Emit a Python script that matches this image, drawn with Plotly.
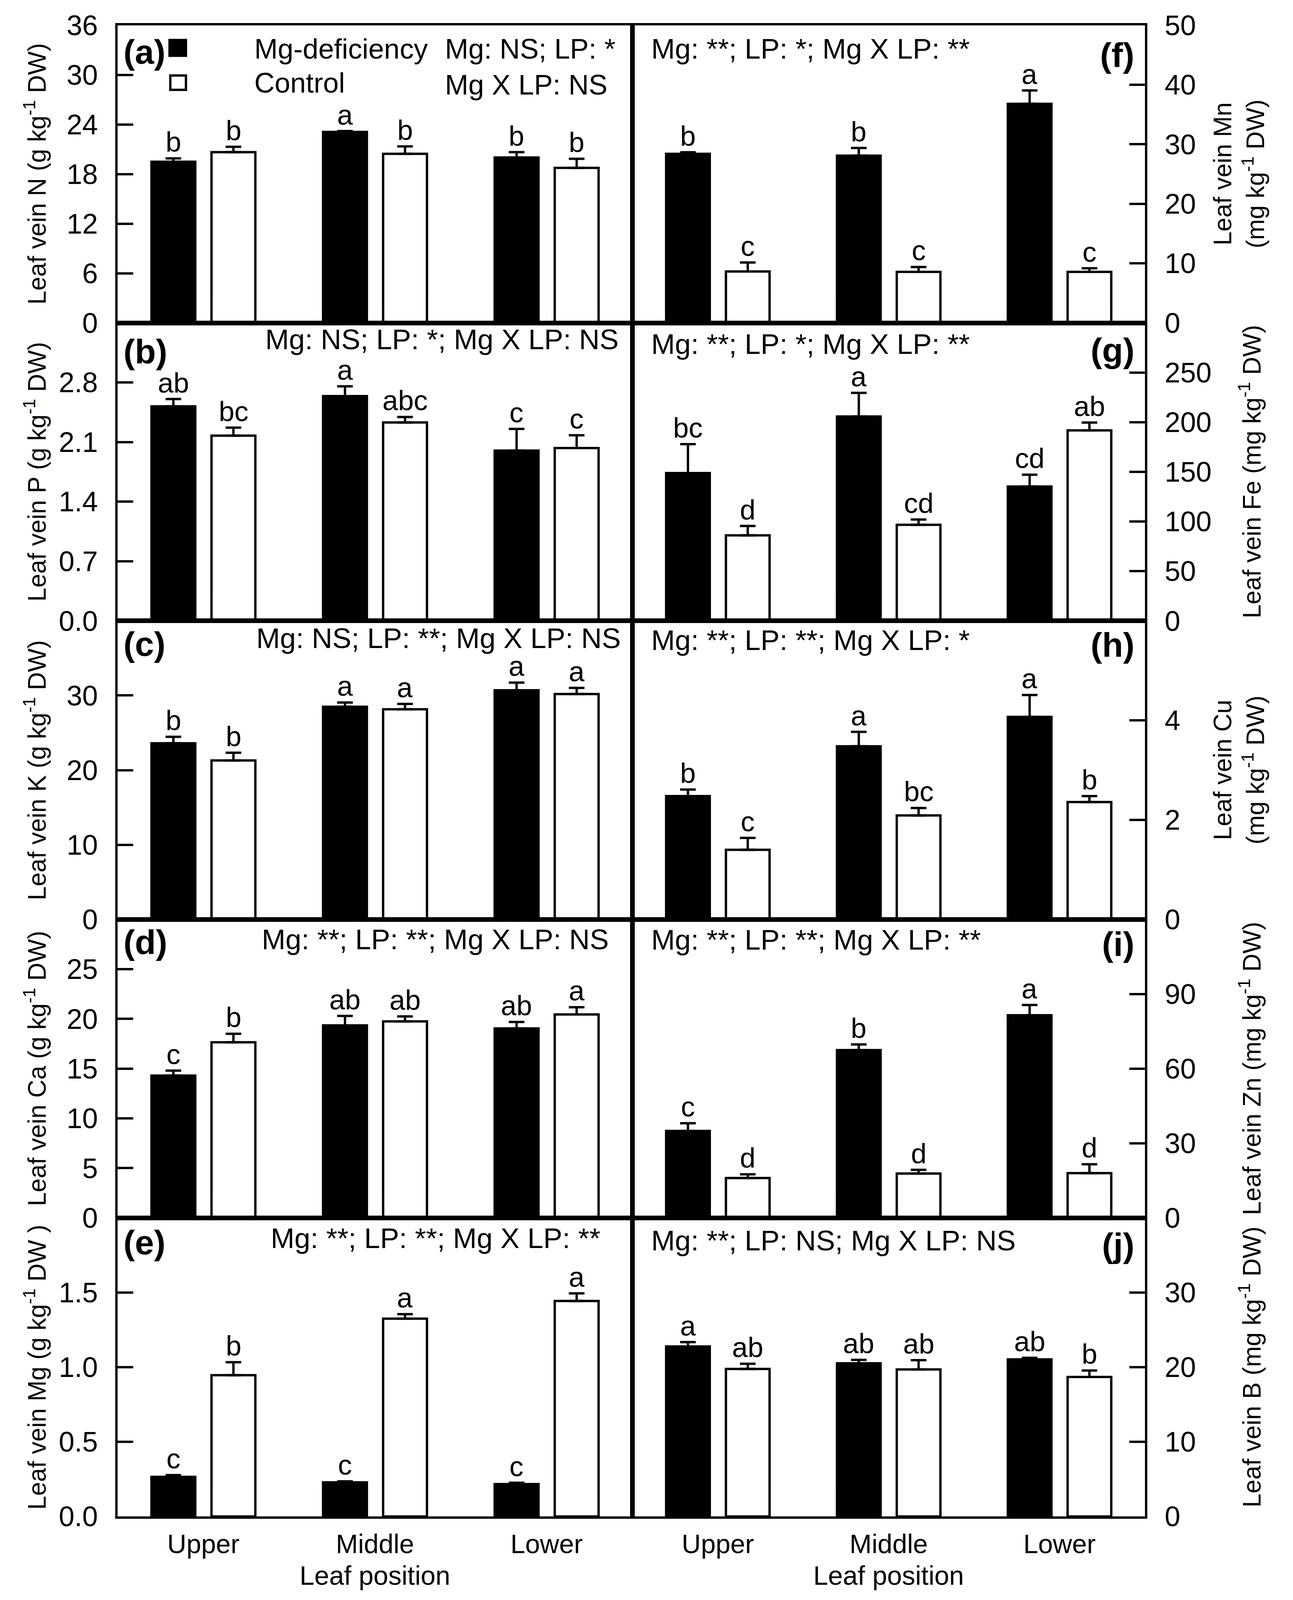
import plotly.graph_objects as go

# reference image size (layout measured in these pixels)
W, H = 3310, 4559
# visible browser viewport is 3310 x 4096 with an 8 px body margin
VW, VH, M = 3310, 4096, 8
WF, HF = VW - 2 * M, VH - 2 * M
FONT = "Liberation Sans, Arial, sans-serif"

positions = ["Upper", "Middle", "Lower"]

# ---- data (Mg-deficiency = black, Control = white) ----
n_mg = [19.5, 23.1, 20.0];   n_mg_err = [0.4, 0.1, 0.65]
n_ct = [20.65, 20.45, 18.75]; n_ct_err = [0.65, 0.9, 1.1]
n_mg_let = ["b", "a", "b"];  n_ct_let = ["b", "b", "b"]

p_mg = [2.52, 2.64, 2.0];    p_mg_err = [0.085, 0.115, 0.255]
p_ct = [2.175, 2.33, 2.03];  p_ct_err = [0.095, 0.065, 0.15]
p_mg_let = ["ab", "a", "c"]; p_ct_let = ["bc", "abc", "c"]

k_mg = [23.6, 28.5, 30.7];   k_mg_err = [0.87, 0.56, 1.03]
k_ct = [21.3, 28.15, 30.2];  k_ct_err = [1.03, 0.72, 0.82]
k_mg_let = ["b", "a", "a"];  k_ct_let = ["b", "a", "a"]

ca_mg = [14.3, 19.35, 19.05]; ca_mg_err = [0.5, 0.95, 0.64]
ca_ct = [17.65, 19.75, 20.45]; ca_ct_err = [0.86, 0.5, 0.73]
ca_mg_let = ["c", "ab", "ab"]; ca_ct_let = ["b", "ab", "a"]

mg_mg = [0.265, 0.229, 0.217]; mg_mg_err = [0.012, 0.006, 0.009]
mg_ct = [0.946, 1.325, 1.443]; mg_ct_err = [0.087, 0.03, 0.051]
mg_mg_let = ["c", "c", "c"];   mg_ct_let = ["b", "a", "a"]

mn_mg = [28.4, 28.1, 36.8];  mn_mg_err = [0.27, 1.29, 2.25]
mn_ct = [8.64, 8.57, 8.57];  mn_ct_err = [1.5, 0.82, 0.61]
mn_mg_let = ["b", "b", "a"]; mn_ct_let = ["c", "c", "c"]

fe_mg = [148.8, 205.7, 135.2]; fe_mg_err = [29.1, 23.8, 11.9]
fe_ct = [86.1, 96.7, 191.8];   fe_ct_err = [9.4, 5.3, 7.8]
fe_mg_let = ["bc", "a", "cd"]; fe_ct_let = ["d", "cd", "ab"]

cu_mg = [2.48, 3.48, 4.07];  cu_mg_err = [0.13, 0.29, 0.44]
cu_ct = [1.40, 2.09, 2.36];  cu_ct_err = [0.24, 0.15, 0.12]
cu_mg_let = ["b", "a", "a"]; cu_ct_let = ["c", "bc", "b"]

zn_mg = [34.95, 67.45, 81.5]; zn_mg_err = [3.1, 2.3, 4.1]
zn_ct = [16.0, 17.8, 17.96];  zn_ct_err = [1.5, 1.5, 3.6]
zn_mg_let = ["c", "b", "a"];  zn_ct_let = ["d", "d", "d"]

b_mg = [22.77, 20.52, 21.04]; b_mg_err = [0.59, 0.45, 0.21]
b_ct = [19.76, 19.69, 18.68]; b_ct_err = [0.69, 1.25, 0.87]
b_mg_let = ["a", "ab", "ab"]; b_ct_let = ["ab", "ab", "b"]

# axis settings
y_ranges = [[0, 36], [0, 3.5], [0, 40], [0, 30], [0, 2.0],
            [0, 50], [0, 300], [0, 6], [0, 120], [0, 40]]
y_ticks = [[0, 6, 12, 18, 24, 30, 36], [0, 0.7, 1.4, 2.1, 2.8], [0, 10, 20, 30],
           [0, 5, 10, 15, 20, 25], [0, 0.5, 1.0, 1.5],
           [0, 10, 20, 30, 40, 50], [0, 50, 100, 150, 200, 250], [0, 2, 4],
           [0, 30, 60, 90], [0, 10, 20, 30]]
y_ticktext = [None, ["0.0", "0.7", "1.4", "2.1", "2.8"], None, None,
              ["0.0", "0.5", "1.0", "1.5"], None, None, None, None, None]

y_titles = ["Leaf vein N (g kg<sup>-1</sup> DW)",
            "Leaf vein P (g kg<sup>-1</sup> DW)",
            "Leaf vein K (g kg<sup>-1</sup> DW)",
            "Leaf vein Ca (g kg<sup>-1</sup> DW)",
            "Leaf vein Mg (g kg<sup>-1</sup> DW )",
            "Leaf vein Mn<br>(mg kg<sup>-1</sup> DW)",
            "Leaf vein Fe (mg kg<sup>-1</sup> DW)",
            "Leaf vein Cu<br>(mg kg<sup>-1</sup> DW)",
            "Leaf vein Zn (mg kg<sup>-1</sup> DW)",
            "Leaf vein B (mg kg<sup>-1</sup> DW)"]

panel_labels = ["(a)", "(b)", "(c)", "(d)", "(e)", "(f)", "(g)", "(h)", "(i)", "(j)"]
stats = [None,
         "Mg: NS; LP: *; Mg X LP: NS",
         "Mg: NS; LP: **; Mg X LP: NS",
         "Mg: **; LP: **; Mg X LP: NS",
         "Mg: **; LP: **; Mg X LP: **",
         "Mg: **; LP: *; Mg X LP: **",
         "Mg: **; LP: *; Mg X LP: **",
         "Mg: **; LP: **; Mg X LP: *",
         "Mg: **; LP: **; Mg X LP: **",
         "Mg: **; LP: NS; Mg X LP: NS"]

series = [
    (n_mg, n_mg_err, n_mg_let, n_ct, n_ct_err, n_ct_let),
    (p_mg, p_mg_err, p_mg_let, p_ct, p_ct_err, p_ct_let),
    (k_mg, k_mg_err, k_mg_let, k_ct, k_ct_err, k_ct_let),
    (ca_mg, ca_mg_err, ca_mg_let, ca_ct, ca_ct_err, ca_ct_let),
    (mg_mg, mg_mg_err, mg_mg_let, mg_ct, mg_ct_err, mg_ct_let),
    (mn_mg, mn_mg_err, mn_mg_let, mn_ct, mn_ct_err, mn_ct_let),
    (fe_mg, fe_mg_err, fe_mg_let, fe_ct, fe_ct_err, fe_ct_let),
    (cu_mg, cu_mg_err, cu_mg_let, cu_ct, cu_ct_err, cu_ct_let),
    (zn_mg, zn_mg_err, zn_mg_let, zn_ct, zn_ct_err, zn_ct_let),
    (b_mg, b_mg_err, b_mg_let, b_ct, b_ct_err, b_ct_let),
]

# ---- layout geometry (reference pixels) ----
tops = [72, 920, 1769, 2620, 3470]
bots = [920, 1769, 2620, 3470, 4321]
cols = [(301, 1619), (1619, 2931)]


def xp(px):
    return (px * VW / W - M) / WF


def yp(py):
    return 1 - (py * VH / H - M) / HF


BARGAP = 0.30
BARGROUPGAP = 0.27
OFF = (1 - BARGAP) / 4  # centre offset of each bar in a group

FS = 72      # general text size
FS_S = 73    # statistics text
FS_T = 64    # rotated axis titles
FS_L = 88    # panel labels
FS_X = 68    # x tick labels / x title

# per-panel text offsets (reference px below panel top)
stat_dy = [0, 47, 49, 56, 58, 67, 60, 55, 57, 65]
stat_x = [0, 1131, 1122, 1114, 1115, 1665, 1665, 1665, 1665, 1665]
lab_dy = [76, 81, 66, 64, 70, 84, 78, 68, 70, 78]

fig = go.Figure()
layout = dict(
    width=WF, height=HF, margin=dict(l=0, r=0, t=0, b=0, autoexpand=False),
    paper_bgcolor="white", plot_bgcolor="white",
    barmode="group", bargap=BARGAP, bargroupgap=BARGROUPGAP,
    showlegend=False, font=dict(family=FONT, size=FS, color="black"),
)
annotations = []
shapes = []

for k in range(10):
    col = 0 if k < 5 else 1
    row = k % 5
    sfx = "" if k == 0 else str(k + 1)
    xa, ya = "x" + sfx, "y" + sfx
    mg, mge, mgl, ct, cte, ctl = series[k]

    for vals, errs, fill in ((mg, mge, "black"), (ct, cte, "white")):
        fig.add_trace(go.Bar(
            x=positions, y=vals, xaxis=xa, yaxis=ya,
            marker=dict(color=fill, line=dict(color="black", width=6)),
            error_y=dict(type="data", symmetric=False, array=errs,
                         arrayminus=[0] * len(errs), color="black",
                         thickness=6, width=20),
            hoverinfo="skip",
        ))

    # significance letters above error bars
    for sign, vals, errs, lets in ((-1, mg, mge, mgl), (1, ct, cte, ctl)):
        for i in range(len(positions)):
            annotations.append(dict(
                x=i + sign * OFF, y=vals[i] + errs[i], xref=xa, yref=ya,
                text=lets[i], showarrow=False, xanchor="center", yanchor="bottom",
                yshift=0, font=dict(size=FS, family=FONT)))

    x0, x1 = cols[col]
    layout["xaxis" + sfx] = dict(
        domain=[xp(x0), xp(x1)], anchor=ya, type="category",
        range=[-0.5, 2.5], showline=True, linewidth=6, linecolor="black",
        mirror=True, ticks="", showgrid=False, zeroline=False,
        showticklabels=(row == 4), tickfont=dict(size=FS_X, family=FONT),
        ticklabelstandoff=6, automargin=False,
    )
    yaxis = dict(
        domain=[yp(bots[row]), yp(tops[row])], anchor=xa,
        range=y_ranges[k], tickvals=y_ticks[k],
        showline=True, linewidth=6, linecolor="black", mirror=True,
        ticks="inside", ticklen=40, tickwidth=6, tickcolor="black",
        showgrid=False, zeroline=False, tickfont=dict(size=FS, family=FONT),
        side="left" if col == 0 else "right", ticklabelstandoff=30,
        automargin=False,
    )
    if y_ticktext[k] is not None:
        yaxis["ticktext"] = y_ticktext[k]
    layout["yaxis" + sfx] = yaxis

    # y axis titles
    if col == 0:
        tx = 90
    else:
        tx = 3172 if "<br>" in y_titles[k] else 3200
    annotations.append(dict(
        x=xp(tx), y=yp((tops[row] + bots[row]) / 2), xref="paper", yref="paper",
        text=y_titles[k], textangle=-90, showarrow=False,
        xanchor="center", yanchor="middle", font=dict(size=FS_T, family=FONT)))

    # panel label
    annotations.append(dict(
        x=xp(314 if col == 0 else 2906), y=yp(tops[row] + lab_dy[k]),
        xref="paper", yref="paper", text="<b>" + panel_labels[k] + "</b>",
        showarrow=False, xanchor="left" if col == 0 else "right",
        yanchor="middle", font=dict(size=FS_L, family=FONT)))

    # statistics text
    if stats[k] is not None:
        annotations.append(dict(
            x=xp(stat_x[k]), y=yp(tops[row] + stat_dy[k]),
            xref="paper", yref="paper", text=stats[k], showarrow=False,
            xanchor="center" if col == 0 else "left", yanchor="middle",
            font=dict(size=FS_S, family=FONT)))

# panel (a) legend and stats
for tx, ty, txt in ((649, 139, "Mg-deficiency"), (649, 236, "Control"),
                    (1137, 139, "Mg: NS; LP: *"), (1137, 242, "Mg X LP: NS")):
    annotations.append(dict(
        x=xp(tx), y=yp(ty), xref="paper", yref="paper", text=txt,
        showarrow=False, xanchor="left", yanchor="middle",
        font=dict(size=FS, family=FONT)))
shapes += [
    dict(type="rect", xref="paper", yref="paper", x0=xp(433), x1=xp(477),
         y0=yp(160), y1=yp(113), fillcolor="black", line=dict(color="black", width=4)),
    dict(type="rect", xref="paper", yref="paper", x0=xp(436), x1=xp(476),
         y0=yp(256), y1=yp(215), fillcolor="white", line=dict(color="black", width=6)),
]

# x axis titles
for cx in ((301 + 1619) / 2, (1619 + 2931) / 2):
    annotations.append(dict(
        x=xp(cx), y=yp(4489), xref="paper", yref="paper", text="Leaf position",
        showarrow=False, xanchor="center", yanchor="middle",
        font=dict(size=FS_X, family=FONT)))

layout["annotations"] = annotations
layout["shapes"] = shapes
fig.update_layout(**layout)
fig.write_html("out.html")
